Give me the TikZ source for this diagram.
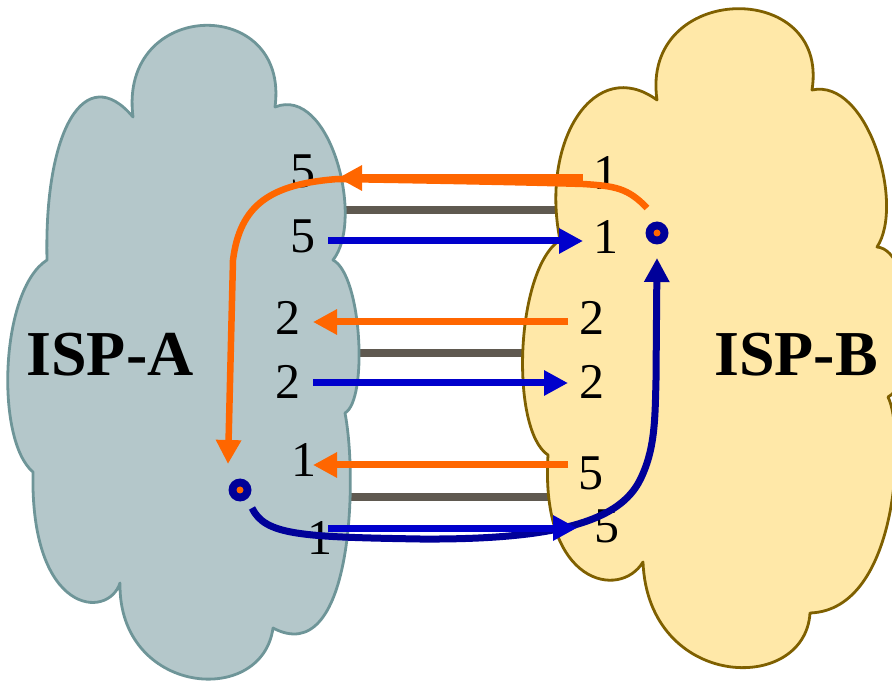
\documentclass[tikz,border=0pt]{standalone}
\usepackage{fontspec}
\setmainfont{Liberation Serif}
\usetikzlibrary{arrows.meta}
\definecolor{cloudAfill}{HTML}{B4C7CA}
\definecolor{cloudAedge}{HTML}{6E9598}
\definecolor{cloudBfill}{HTML}{FFE8A8}
\definecolor{cloudBedge}{HTML}{7F6000}
\definecolor{prefOrange}{HTML}{FF6600}
\definecolor{prefBlue}{HTML}{0000CC}
\definecolor{routeNavy}{HTML}{000099}
\definecolor{linkGray}{HTML}{5F5950}
\begin{document}
\begin{tikzpicture}[x=1pt,y=-1pt,
  tip/.style={-{Triangle[length=24pt,width=24pt]}},
  oarrow/.style={tip,draw=prefOrange,line width=7pt},
  barrow/.style={tip,draw=prefBlue,line width=7pt},
  oroute/.style={tip,draw=prefOrange,line width=6.5pt},
  nroute/.style={tip,draw=routeNavy,line width=7pt},
  link/.style={draw=linkGray,line width=8pt},
  num/.style={inner sep=0pt,font=\fontsize{50}{50}\selectfont},
  isp/.style={inner sep=0pt,font=\fontsize{64}{64}\selectfont\bfseries},
  cloudA/.style={fill=cloudAfill,draw=cloudAedge,line width=2.8pt,line join=round},
  cloudB/.style={fill=cloudBfill,draw=cloudBedge,line width=2.8pt,line join=round}]
\path[use as bounding box] (0,0) rectangle (892,684);
\clip (0,0) rectangle (892,684);

% physical links between the two networks (partly hidden by the clouds)
\coordinate (k1a) at (320,210); \coordinate (k1b) at (575,210);
\coordinate (k2a) at (340,353); \coordinate (k2b) at (540,353);
\coordinate (k3a) at (325,497); \coordinate (k3b) at (565,497);
\draw[link] (k1a) -- (k1b);
\draw[link] (k2a) -- (k2b);
\draw[link] (k3a) -- (k3b);

% ISP-A cloud
\path[cloudA] (133,117)
  .. controls (118,-2) and (290,-5) .. (275,107)
  .. controls (330,85) and (365,220) .. (333,260)
  .. controls (362,275) and (368,400) .. (345,413)
  .. controls (358,480) and (352,670) .. (273,628)
  .. controls (262,708) and (118,695) .. (120,583)
  .. controls (108,620) and (30,615) .. (33,472)
  .. controls (-5,440) and (0,290) .. (47,260)
  .. controls (44,130) and (85,60) .. (133,117) -- cycle;

% ISP-B cloud
\path[cloudB] (657,100)
  .. controls (640,-18) and (830,-22) .. (812,90)
  .. controls (868,78) and (905,205) .. (877,247)
  .. controls (915,250) and (920,380) .. (888,397)
  .. controls (905,430) and (900,610) .. (810,613)
  .. controls (805,695) and (648,690) .. (643,562)
  .. controls (620,600) and (540,585) .. (548,455)
  .. controls (510,430) and (515,270) .. (560,240)
  .. controls (540,140) and (595,55) .. (657,100) -- cycle;

% network names
\node[isp] (ispA) at (110,355) {ISP-A};
\node[isp] (ispB) at (796,355) {ISP-B};

% local preference values
\node[num] (a1) at (303,171) {5};
\node[num] (a2) at (303,236) {5};
\node[num] (a3) at (288,318) {2};
\node[num] (a4) at (288,382) {2};
\node[num] (a5) at (304,460) {1};
\node[num] (a6) at (320,538) {1};
\node[num] (b1) at (606,173) {1};
\node[num] (b2) at (606,237) {1};
\node[num] (b3) at (592,318) {2};
\node[num] (b4) at (592,382) {2};
\node[num] (b5) at (591,473) {5};
\node[num] (b6) at (607,526) {5};

% routers
\node[circle,fill=routeNavy,minimum size=23pt,inner sep=0pt] (ra) at (240,490) {};
\node[circle,fill=prefOrange,minimum size=7pt,inner sep=0pt] at (ra) {};
\node[circle,fill=routeNavy,minimum size=23pt,inner sep=0pt] (rb) at (657,233) {};
\node[circle,fill=prefOrange,minimum size=7pt,inner sep=0pt] at (rb) {};

% path taken by traffic from B to A
\coordinate (ob) at (647,208);
\coordinate (oa) at (228,464);
\draw[oroute] (ob) .. controls (628,188) and (615,186) .. (583,184)
  .. controls (520,182) and (400,180) .. (338,179)
  .. controls (270,184) and (240,205) .. (233,260) -- (oa);

% path taken by traffic from A to B
\coordinate (na) at (252,508);
\coordinate (nb) at (657,258);
\draw[nroute] (na) .. controls (265,535) and (300,537) .. (420,539)
  .. controls (560,540) and (620,520) .. (640,480)
  .. controls (655,450) and (655,420) .. (656,380) -- (nb);

% route announcements on each link
\coordinate (o1s) at (583,178); \coordinate (o1e) at (338,178);
\coordinate (u1s) at (328,241); \coordinate (u1e) at (583,241);
\coordinate (o2s) at (568,322); \coordinate (o2e) at (313,322);
\coordinate (u2s) at (313,383); \coordinate (u2e) at (568,383);
\coordinate (o3s) at (568,465); \coordinate (o3e) at (313,465);
\coordinate (u3s) at (328,528); \coordinate (u3e) at (577,528);
\draw[oarrow] (o1s) -- (o1e);
\draw[barrow] (u1s) -- (u1e);
\draw[oarrow] (o2s) -- (o2e);
\draw[barrow] (u2s) -- (u2e);
\draw[oarrow] (o3s) -- (o3e);
\draw[barrow] (u3s) -- (u3e);
\end{tikzpicture}
\end{document}
